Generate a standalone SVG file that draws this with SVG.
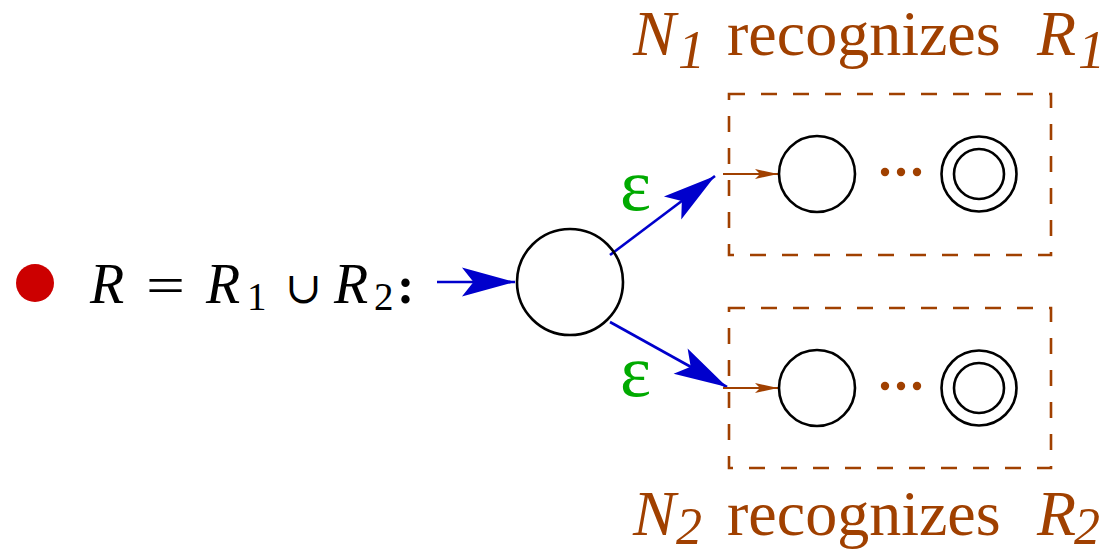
<svg xmlns="http://www.w3.org/2000/svg" width="1107" height="550" viewBox="0 0 1107 550">
<style>
.st{fill:none;stroke:#000;stroke-width:2.6}
.box{fill:none;stroke:#A04000;stroke-width:2.6;stroke-dasharray:16 16}
.bl{fill:none;stroke:#0000CC;stroke-width:2.6}
.br{fill:none;stroke:#A04000;stroke-width:1.8}
.t{font-family:"Liberation Serif",serif;fill:#A04000}
.it{font-style:italic}
.fm{font-family:"Liberation Serif",serif;fill:#000}
.eps{font-family:"Liberation Serif",serif;fill:#00AA00;font-size:74px}
.dot{fill:#A04000}
</style>
<defs>
<marker id="ab" markerUnits="userSpaceOnUse" markerWidth="60" markerHeight="40" viewBox="-50 -15 52 30" refX="0" refY="0" orient="auto">
<path d="M0,0 L-46,-12.5 L-36,0 L-46,12.5 Z" fill="#0000CC"/>
</marker>
<marker id="asm" markerUnits="userSpaceOnUse" markerWidth="30" markerHeight="14" viewBox="-25 -7 26 14" refX="0" refY="0" orient="auto">
<path d="M0,0 L-23,-5 L-18,0 L-23,5 Z" fill="#A04000"/>
</marker>
</defs>

<circle id="bullet" cx="35" cy="283" r="19" fill="#CC0000"/>

<g id="formula">
<text class="fm it" x="90" y="303" style="font-size:56px">R</text>
<text class="fm" x="146" y="303" style="font-size:52px" textLength="39" lengthAdjust="spacingAndGlyphs">=</text>
<text class="fm it" x="206" y="303" style="font-size:56px">R</text>
<text class="fm" x="247" y="310" style="font-size:39px">1</text>
<text class="fm" x="285" y="303" style="font-size:44px;font-family:'DejaVu Serif',serif">∪</text>
<text class="fm it" x="334" y="303" style="font-size:56px">R</text>
<text class="fm" x="374" y="310" style="font-size:39px">2</text>
<text class="fm" x="397" y="303" style="font-size:52px;font-weight:bold">:</text>
</g>

<g id="connectors">
<line class="bl" x1="437" y1="282" x2="515" y2="282" marker-end="url(#ab)"/>
<line class="bl" x1="610" y1="255" x2="715" y2="176" marker-end="url(#ab)"/>
<line class="bl" x1="610" y1="322" x2="727" y2="387" marker-end="url(#ab)"/>
<line class="br" x1="723" y1="174" x2="778" y2="174" marker-end="url(#asm)"/>
<line class="br" x1="723" y1="388" x2="778" y2="388" marker-end="url(#asm)"/>
<text class="eps" x="620" y="210">ε</text>
<text class="eps" x="620" y="396">ε</text>
</g>

<g id="start">
<circle class="st" cx="570" cy="282" r="53"/>
</g>

<g id="N1">
<rect class="box" x="729" y="94" width="322" height="161"/>
<circle class="st" cx="817" cy="174" r="38"/>
<circle class="dot" cx="885" cy="172" r="4.2"/>
<circle class="dot" cx="901" cy="172" r="4.2"/>
<circle class="dot" cx="917" cy="172" r="4.2"/>
<circle class="st" cx="979" cy="174" r="37.5"/>
<circle class="st" cx="979" cy="174" r="25"/>
<text class="t it" x="633" y="55" font-size="64">N</text>
<text class="t it" x="678" y="68" font-size="54">1</text>
<text class="t" x="727" y="55" font-size="64">recognizes</text>
<text class="t it" x="1037" y="55" font-size="64">R</text>
<text class="t it" x="1078" y="68" font-size="54">1</text>
</g>

<g id="N2">
<rect class="box" x="729" y="308" width="322" height="160"/>
<circle class="st" cx="817" cy="388" r="38"/>
<circle class="dot" cx="885" cy="386" r="4.2"/>
<circle class="dot" cx="901" cy="386" r="4.2"/>
<circle class="dot" cx="917" cy="386" r="4.2"/>
<circle class="st" cx="979" cy="388" r="37.5"/>
<circle class="st" cx="979" cy="388" r="25"/>
<text class="t it" x="633" y="535" font-size="64">N</text>
<text class="t it" x="676" y="544" font-size="52">2</text>
<text class="t" x="727" y="535" font-size="64">recognizes</text>
<text class="t it" x="1037" y="535" font-size="64">R</text>
<text class="t it" x="1074" y="544" font-size="52">2</text>
</g>
</svg>
